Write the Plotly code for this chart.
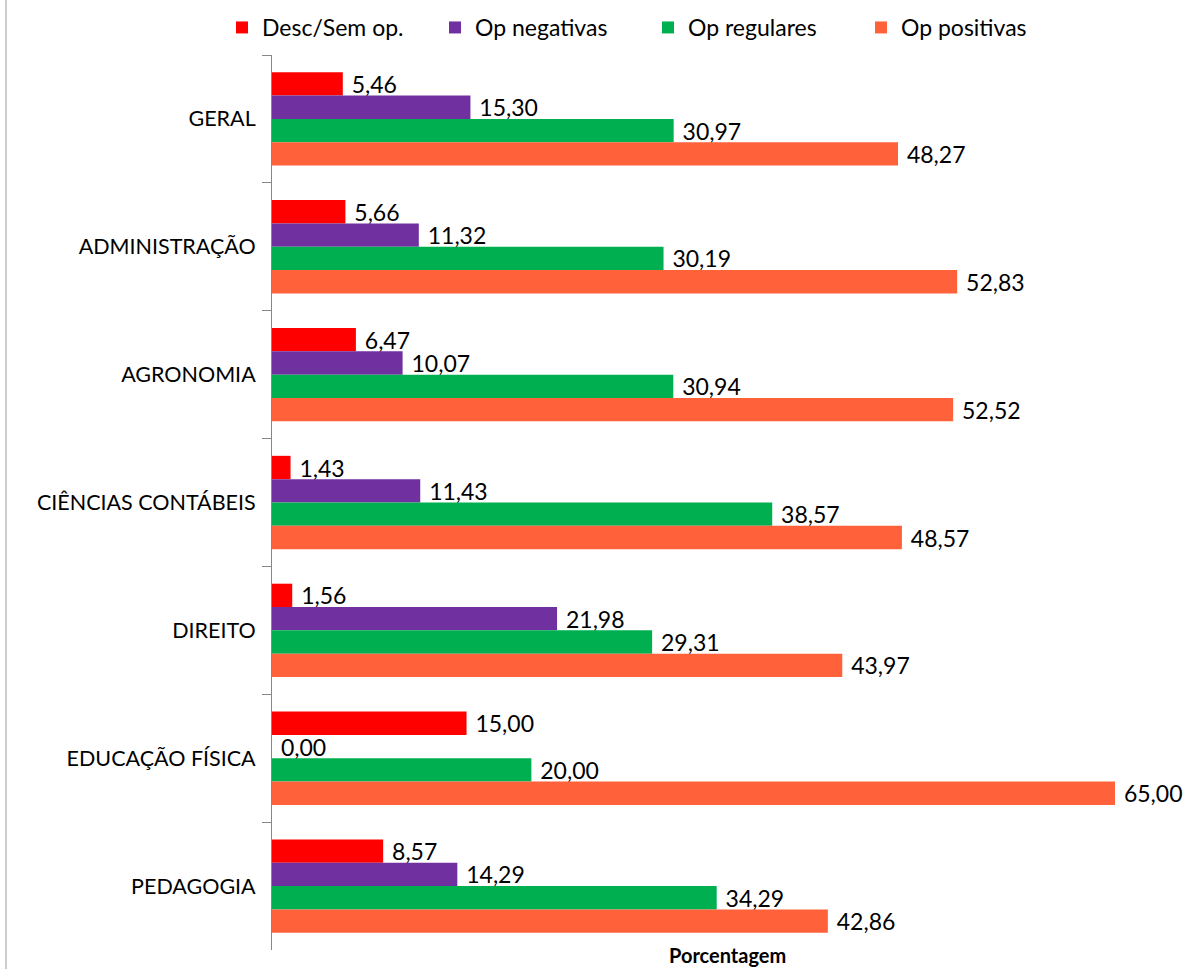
import plotly.graph_objects as go

categories = ["GERAL", "ADMINISTRAÇÃO", "AGRONOMIA", "CIÊNCIAS CONTÁBEIS",
              "DIREITO", "EDUCAÇÃO FÍSICA", "PEDAGOGIA"]
desc_sem_op = [5.46, 5.66, 6.47, 1.43, 1.56, 15.00, 8.57]
op_negativas = [15.30, 11.32, 10.07, 11.43, 21.98, 0.00, 14.29]
op_regulares = [30.97, 30.19, 30.94, 38.57, 29.31, 20.00, 34.29]
op_positivas = [48.27, 52.83, 52.52, 48.57, 43.97, 65.00, 42.86]

series = [
    ("Desc/Sem op.", desc_sem_op, "#FF0000"),
    ("Op negativas", op_negativas, "#7030A0"),
    ("Op regulares", op_regulares, "#00B050"),
    ("Op positivas", op_positivas, "#FF623B"),
]

FONT = "Lato"
W, H = 1198, 969
L, R, T, B = 272, 83, 55, 19
pw = W - L - R
ph = H - T - B

fig = go.Figure()
for name, vals, color in series:
    fig.add_trace(go.Bar(
        name=name, y=categories, x=vals, orientation="h",
        marker=dict(color=color, line=dict(width=0)),
        texttemplate="\u00a0%{x:.2f}", textposition="outside",
        constraintext="none",
        textfont=dict(family=FONT, size=23, color="black"),
        cliponaxis=False,
    ))

fig.update_layout(
    width=W, height=H,
    margin=dict(l=L, r=R, t=T, b=B, pad=0, autoexpand=False),
    barmode="group", bargap=0.27, bargroupgap=0,
    separators=",.",
    plot_bgcolor="white", paper_bgcolor="white",
    font=dict(family=FONT, size=21.5, color="black"),
    showlegend=True,
    legend=dict(orientation="h", x=(222 - L) / pw, xanchor="left",
                y=1 + (T - 6) / ph, yanchor="top",
                entrywidth=168, entrywidthmode="pixels",
                font=dict(family=FONT, size=23, color="black"),
                traceorder="normal"),
    xaxis=dict(range=[0, 65], visible=False, showgrid=False, zeroline=False),
    yaxis=dict(autorange="reversed", showline=True, linecolor="#888888", linewidth=1,
               ticks="outside", tickson="boundaries", ticklen=9, tickcolor="#888888",
               ticklabelstandoff=11, automargin=False,
               tickfont=dict(family=FONT, size=21.5, color="black"),
               showgrid=False, zeroline=False),
    annotations=[dict(text="<b>Porcentagem</b>", x=(727 - L) / pw, xref="paper",
                      y=-(955 - (H - B)) / ph, yref="paper",
                      yanchor="middle", xanchor="center", showarrow=False,
                      font=dict(family=FONT, size=20, color="black"))],
    shapes=[dict(type="line", xref="paper", yref="paper",
                 x0=(6 - L) / pw, x1=(6 - L) / pw, y0=-0.1, y1=1.1,
                 line=dict(color="#BBBBBB", width=1.5))],
)

fig.write_html("out.html", config={"displayModeBar": False},
               post_script="document.body.style.margin='0';document.body.style.overflow='hidden';")
